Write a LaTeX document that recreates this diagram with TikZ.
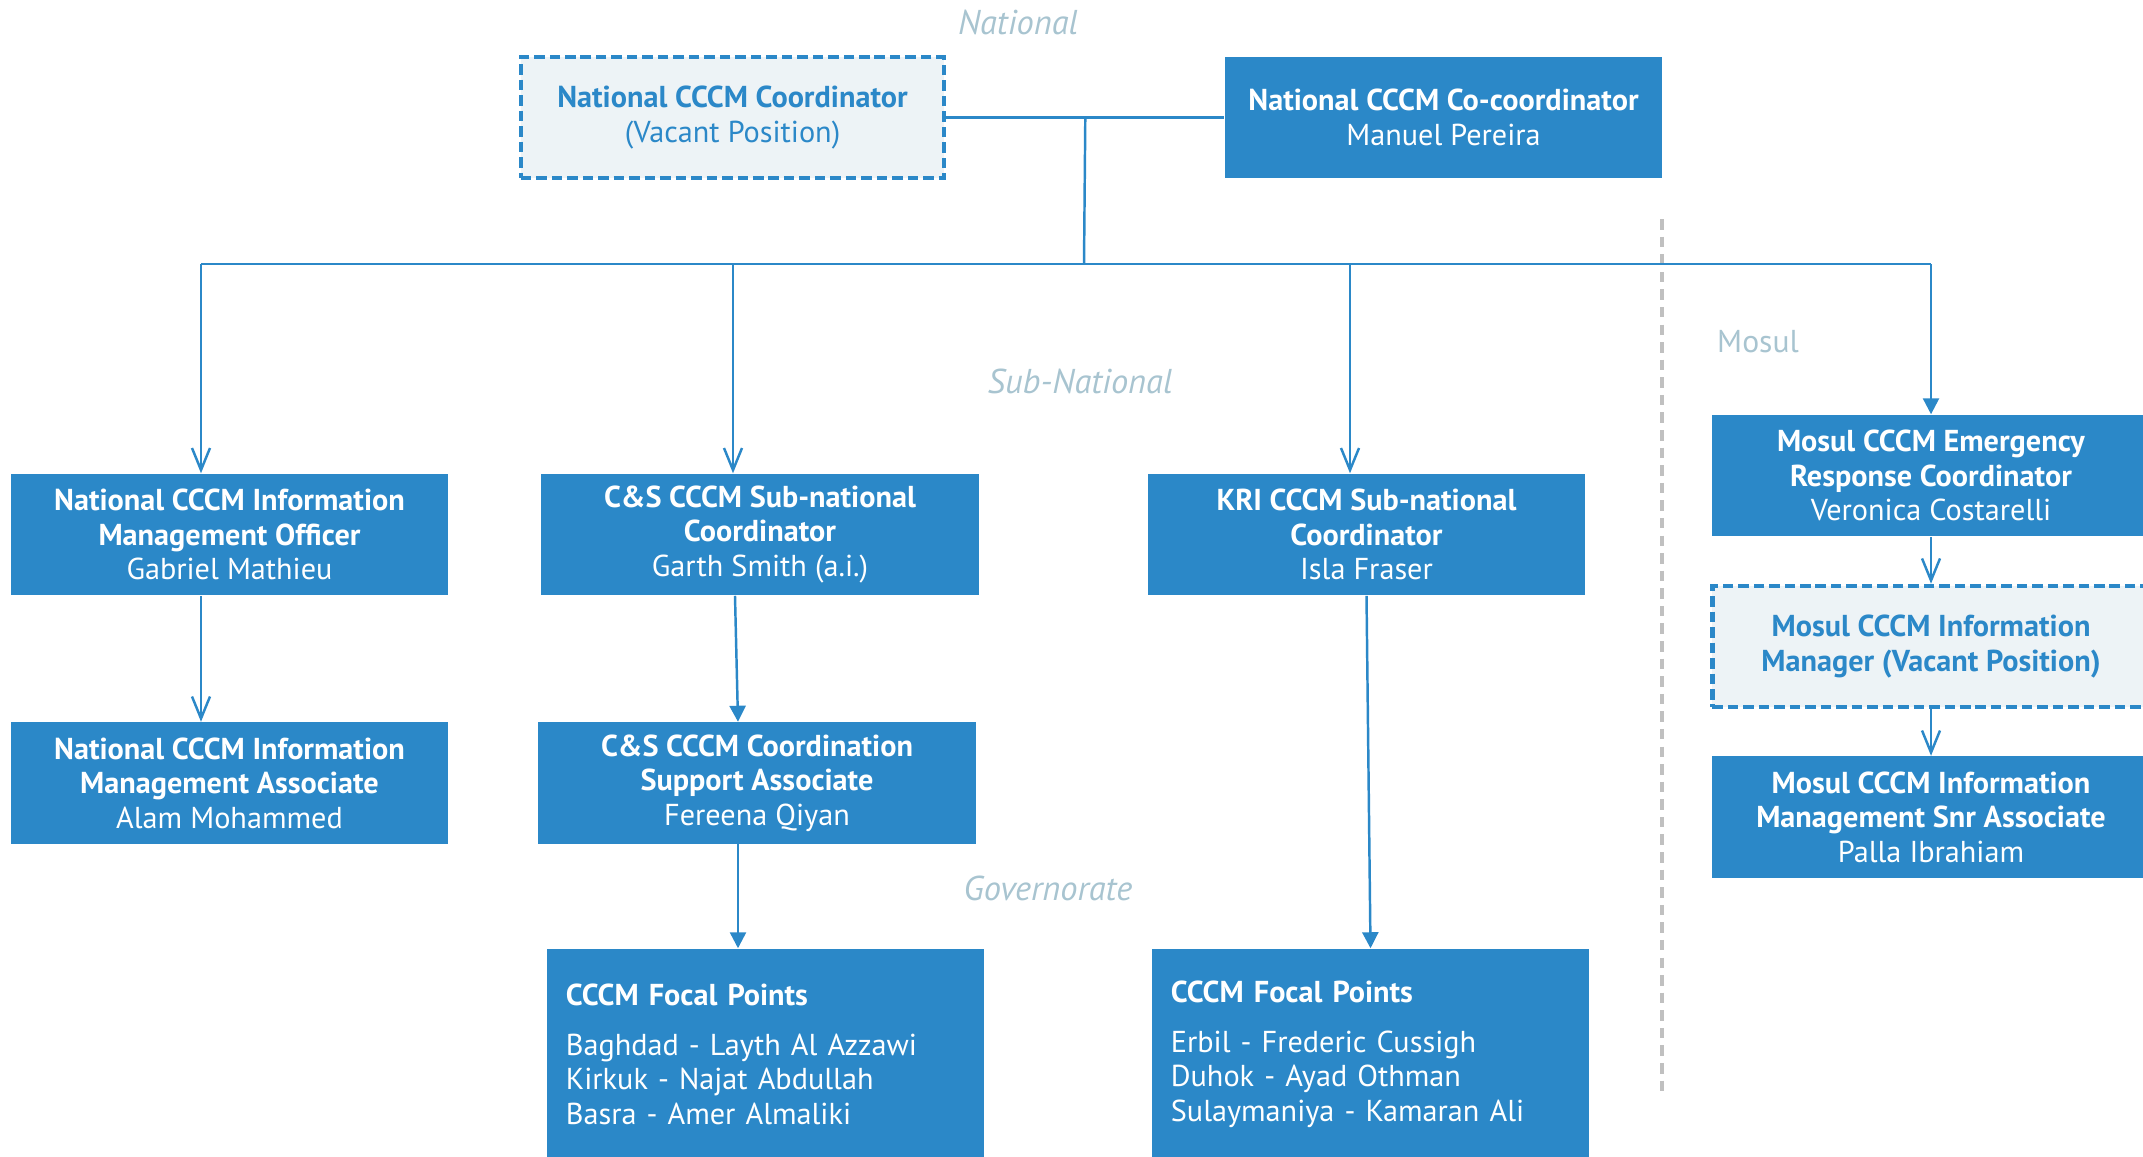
\documentclass[tikz,border=0pt]{standalone}
\usepackage{fontspec}
\setmainfont{PT Sans}
\usetikzlibrary{arrows.meta}
\usetikzlibrary{positioning}
\definecolor{boxblue}{HTML}{2B88C8}
\definecolor{vacantfill}{HTML}{EDF3F6}
\definecolor{levelgrey}{HTML}{A8C4D0}
\definecolor{splitgrey}{HTML}{C0C0C0}

\tikzset{
  post/.style={fill=boxblue, text=white, minimum width=4.37cm, minimum height=1.21cm,
    align=center, inner sep=2pt, font=\fontsize{8.6}{9.8}\selectfont},
  vacant/.style={post, draw=boxblue, fill=vacantfill, text=boxblue, line width=1.3pt,
    dash pattern=on 3pt off 1.4pt},
  focal/.style={post, minimum height=2.1cm, text width=3.99cm, inner xsep=0.19cm, align=left},
  level/.style={text=levelgrey, font=\fontsize{9.8}{12}\selectfont\itshape},
  link/.style={draw=boxblue, line width=0.7pt},
  openlink/.style={link, -{Straight Barb[length=2.2mm,width=1.8mm]}},
  solidlink/.style={link, -{Triangle[length=1.6mm,width=1.6mm]}},
}

\begin{document}
\begin{tikzpicture}[x=0.01cm, y=-0.01cm]
  \useasboundingbox (0,0) rectangle (2143,1156);

  % level labels
  \node[level] (lvlnat) at (1018,22) {National};
  \node[level] (lvlsub) at (1080,381) {Sub-National};
  \node[level] (lvlgov) at (1048,888) {Governorate};
  \node[level, font=\fontsize{9}{11}\selectfont] (lvlmosul) at (1758,342) {Mosul};
  \draw[splitgrey, line width=0.9pt, dash pattern=on 3pt off 2pt] (1662,219) -- (1662,1097);

  % national
  \node[vacant, minimum width=4.23cm] (natcoord) at (732.5,117.5) {\textbf{National CCCM Coordinator}\\(Vacant Position)};
  \node[post] (cocoord) at (1443.5,117.5) {\textbf{National CCCM Co-coordinator}\\Manuel Pereira};

  % sub-national
  \node[post] (imo) at (229.5,534.5) {\textbf{National CCCM Information}\\\textbf{Management Officer}\\Gabriel Mathieu};
  \node[post] (cssub) at (760,534.5) {\textbf{C\&S CCCM Sub-national}\\\textbf{Coordinator}\\Garth Smith (a.i.)};
  \node[post] (kri) at (1366.5,534.5) {\textbf{KRI CCCM Sub-national}\\\textbf{Coordinator}\\Isla Fraser};
  \node[post] (imassoc) at (229.5,783) {\textbf{National CCCM Information}\\\textbf{Management Associate}\\Alam Mohammed};
  \node[post] (cssupport) at (757,783) {\textbf{C\&S CCCM Coordination}\\\textbf{Support Associate}\\Fereena Qiyan};

  % mosul
  \node[post] (mosulerc) at (1931,475.5) {\textbf{Mosul CCCM Emergency}\\\textbf{Response Coordinator}\\Veronica Costarelli};
  \node[vacant] (mosulim) at (1931,646.5) {\textbf{Mosul CCCM Information}\\\textbf{Manager (Vacant Position)}};
  \node[post] (mosulsnr) at (1931,817) {\textbf{Mosul CCCM Information}\\\textbf{Management Snr Associate}\\Palla Ibrahiam};

  % governorate
  \node[focal] (focalcs) at (765.5,1054) {\textbf{CCCM Focal Points}\\[4.5pt]Baghdad - Layth Al Azzawi\\Kirkuk - Najat Abdullah\\Basra - Amer Almaliki};
  \node[focal] (focalkri) at (1370.5,1054) {\textbf{CCCM Focal Points}\\[4.5pt]Erbil - Frederic Cussigh\\Duhok - Ayad Othman\\Sulaymaniya - Kamaran Ali};

  % connectors
  \draw[link] (natcoord.east) -- (cocoord.west) coordinate[pos=0.5] (hub);
  \coordinate (bus) at (1084,264);
  \coordinate (busimo) at (201,264);
  \coordinate (buscs) at (733,264);
  \coordinate (buskri) at (1350,264);
  \coordinate (busmosul) at (1931,264);
  \draw[link] (hub) -- (bus);
  \draw[link] (busimo) -- (busmosul);
  \draw[openlink] (busimo) -- (busimo |- imo.north);
  \draw[openlink] (buscs) -- (buscs |- cssub.north);
  \draw[openlink] (buskri) -- (buskri |- kri.north);
  \draw[solidlink] (busmosul) -- (mosulerc.north);

  \draw[openlink] (busimo |- imo.south) -- (busimo |- imassoc.north);
  \coordinate (csdrop) at (738,843);
  \draw[solidlink] ([xshift=-0.25cm]cssub.south) -- (csdrop |- cssupport.north);
  \draw[solidlink] (csdrop) -- (csdrop |- focalcs.north);
  \draw[solidlink] (kri.south) -- (focalkri.north);

  \draw[openlink] (mosulerc.south) -- (mosulim.north);
  \draw[openlink] (mosulim.south) -- (mosulsnr.north);
\end{tikzpicture}
\end{document}
